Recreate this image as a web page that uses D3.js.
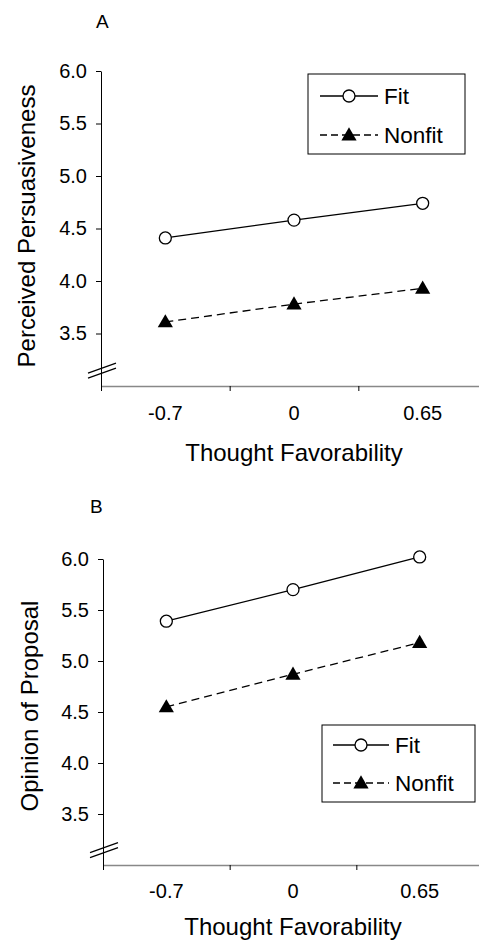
<!DOCTYPE html>
<html>
<head>
<meta charset="utf-8">
<script src="https://cdn.jsdelivr.net/npm/d3@7"></script>
<style>
  body { margin: 0; background: #fff; }
  svg { display: block; font-family: "Liberation Sans", Arial, sans-serif; }
</style>
</head>
<body>
<div id="chart"></div>
<script>
// data
const categories = ["-0.7", "0", "0.65"];
const yTicks = [3.5, 4.0, 4.5, 5.0, 5.5, 6.0];
const seriesNames = ["Fit", "Nonfit"];
const persuasionFit = [4.41, 4.58, 4.74];
const persuasionNonfit = [3.61, 3.78, 3.93];
const opinionFit = [5.39, 5.70, 6.02];
const opinionNonfit = [4.55, 4.87, 5.18];

const W = 479, H = 941;
const FONT_TICK = "20px", FONT_TITLE = "24px", FONT_LEGEND = "22.5px";

const svg = d3.select("#chart").append("svg")
    .attr("width", W)
    .attr("height", H);

const triangle = d3.symbol().type(d3.symbolTriangle).size(100);

function drawMarker(g, type, cx, cy) {
    if (type == "Fit") {
        g.append("circle")
            .attr("cx", cx).attr("cy", cy).attr("r", 6)
            .attr("fill", "#fff").attr("stroke", "#000").attr("stroke-width", 1.3);
    } else {
        g.append("path")
            .attr("d", triangle)
            .attr("transform", "translate(" + cx + "," + (cy + 1) + ")")
            .attr("fill", "#000");
    }
}

function drawPanel(p) {
    const g = svg.append("g");

    const x = d3.scaleBand().domain(categories).range(p.xRange).padding(0);
    const xTick = d3.scaleLinear().domain([0, categories.length]).range(p.xRange);
    const y = d3.scaleLinear().domain([3.0, 6.0]).range(p.yRange);
    const yBase = p.yRange[0];

    // panel letter
    g.append("text")
        .attr("x", p.letterPos[0]).attr("y", p.letterPos[1])
        .style("font-size", "19px")
        .text(p.letter);

    // x axis: line + ticks at band edges
    const xAxisG = g.append("g")
        .attr("transform", "translate(0," + yBase + ")")
        .call(d3.axisBottom(xTick).tickValues([0, 1, 2, 3]).tickFormat("").tickSize(5).tickSizeOuter(0));
    xAxisG.select(".domain").attr("stroke", "#888").attr("stroke-width", 1.6);

    // x labels in band centers
    const xLab = g.append("g")
        .attr("transform", "translate(0," + yBase + ")")
        .call(d3.axisBottom(x).tickSize(0).tickPadding(p.xPad));
    xLab.select(".domain").remove();
    xLab.selectAll("text").style("font-size", FONT_TICK).attr("font-family", null).attr("fill", "#000");

    // y axis
    const yAxisG = g.append("g")
        .attr("transform", "translate(" + p.xRange[0] + ",0)")
        .call(d3.axisLeft(y).tickValues(yTicks).tickFormat(d3.format(".1f")).tickSize(5).tickSizeOuter(0).tickPadding(9));
    yAxisG.selectAll("text").style("font-size", FONT_TICK).attr("font-family", null).attr("fill", "#000");

    // axis break marks
    const by = y(3.17);
    [0, 5].forEach(function (off) {
        g.append("line")
            .attr("x1", p.xRange[0] - 13).attr("y1", by + 5 + off)
            .attr("x2", p.xRange[0] + 15).attr("y2", by - 5 + off)
            .attr("stroke", "#000").attr("stroke-width", 1.2);
    });

    // axis titles
    g.append("text")
        .attr("x", (p.xRange[0] + xTick(3)) / 2) .attr("y", p.xTitleY)
        .attr("text-anchor", "middle")
        .style("font-size", FONT_TITLE)
        .text("Thought Favorability");

    g.append("text")
        .attr("transform", "translate(" + p.yTitlePos[0] + "," + p.yTitlePos[1] + ") rotate(-90)")
        .attr("text-anchor", "middle")
        .style("font-size", FONT_TITLE)
        .text(p.yTitle);

    // lines + markers
    const line = d3.line()
        .x(function (d, i) { return x(categories[i]) + x.bandwidth() / 2; })
        .y(function (d) { return y(d); });

    [p.fit, p.nonfit].forEach(function (vals, si) {
        g.append("path")
            .datum(vals)
            .attr("d", line)
            .attr("fill", "none")
            .attr("stroke", "#000")
            .attr("stroke-width", 1.3)
            .attr("stroke-dasharray", si == 1 ? "8,5" : null);
        vals.forEach(function (v, i) {
            drawMarker(g, seriesNames[si], x(categories[i]) + x.bandwidth() / 2, y(v));
        });
    });

    // legend
    const lg = p.legend;
    g.append("rect")
        .attr("x", lg.x).attr("y", lg.y).attr("width", lg.w).attr("height", lg.h)
        .attr("fill", "#fff").attr("stroke", "#000").attr("stroke-width", 1);
    seriesNames.forEach(function (name, i) {
        const ry = lg.rows[i];
        g.append("line")
            .attr("x1", lg.lineX[0]).attr("x2", lg.lineX[1])
            .attr("y1", ry).attr("y2", ry)
            .attr("stroke", "#000").attr("stroke-width", 1.3)
            .attr("stroke-dasharray", i == 1 ? "7,4" : null);
        drawMarker(g, name, (lg.lineX[0] + lg.lineX[1]) / 2, ry);
        g.append("text")
            .attr("x", lg.textX).attr("y", ry)
            .attr("dy", "0.36em")
            .style("font-size", FONT_LEGEND)
            .text(name);
    });
}

drawPanel({
    letter: "A", letterPos: [96, 28],
    xRange: [101, 487], yRange: [386, 71], xPad: 20,
    xTitleY: 461, yTitle: "Perceived Persuasiveness", yTitlePos: [35, 226],
    fit: persuasionFit, nonfit: persuasionNonfit,
    legend: { x: 308, y: 74, w: 157, h: 80, rows: [96, 135], lineX: [320, 378], textX: 384 }
});

drawPanel({
    letter: "B", letterPos: [90, 513],
    xRange: [103, 483], yRange: [865, 559], xPad: 19,
    xTitleY: 935, yTitle: "Opinion of Proposal", yTitlePos: [38, 706],
    fit: opinionFit, nonfit: opinionNonfit,
    legend: { x: 322, y: 725, w: 153, h: 77, rows: [745, 783], lineX: [333, 389], textX: 395 }
});
</script>
</body>
</html>
